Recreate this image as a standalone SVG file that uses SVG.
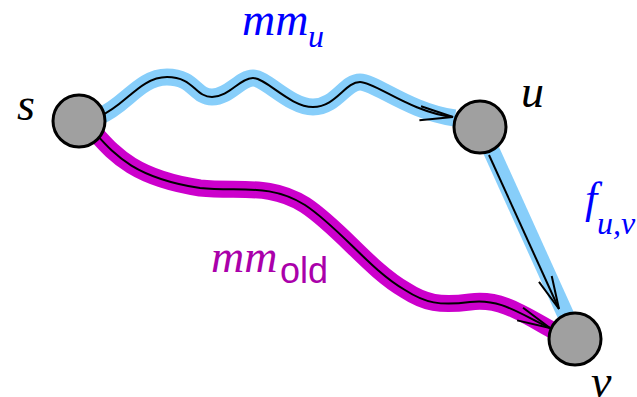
<svg xmlns="http://www.w3.org/2000/svg" width="637" height="397" viewBox="0 0 637 397">
<style>
.band-blue{fill:none;stroke:#87cefa;stroke-width:17;stroke-linecap:butt}
.band-mag{fill:none;stroke:#cc00cc;stroke-width:17;stroke-linecap:butt}
.line{fill:none;stroke:#000;stroke-width:2}
.node{fill:#a0a0a0;stroke:#000;stroke-width:3}
.math{font-family:"Liberation Serif","Times New Roman",serif;font-style:italic}
</style>
<defs>
<marker id="arr" markerUnits="userSpaceOnUse" viewBox="-36 -10 40 20" refX="0" refY="0" markerWidth="40" markerHeight="20" orient="auto">
<path d="M-33,-7 L0,0 L-33,7" fill="none" stroke="#000" stroke-width="2"/>
</marker>
</defs>
<g id="connectors">
<path class="band-blue" d="M100,116 C125,106 140,77 167,77 S195,97 212,97 S240,78 253,78 S290,107 313,107 S345,82 360,82 S410,112 455,118"/>
<path class="band-blue" d="M482,130 L568,320"/>
<path class="band-mag" d="M96,134 C115,155 135,178 200,188 C240,192 270,183 305,205 C340,228 370,270 405,290 C425,303 440,306 470,302 C500,298 520,312 552,330"/>
<path class="line" marker-end="url(#arr)" d="M100,116 C125,106 140,77 167,77 S195,97 212,97 S240,78 253,78 S290,107 313,107 S345,82 360,82 S410,112 453,117"/>
<path class="line" marker-end="url(#arr)" d="M489,155 L559,309"/>
<path class="line" marker-end="url(#arr)" d="M96,134 C115,155 135,178 200,188 C240,192 270,183 305,205 C340,228 370,270 405,290 C425,303 440,306 470,302 C500,298 520,314 550,328"/>
</g>
<g id="node-s">
<circle class="node" cx="79" cy="121" r="26"/>
<text class="math" x="17" y="120" font-size="46">s</text>
</g>
<g id="node-u">
<circle class="node" cx="480" cy="127" r="26"/>
<text class="math" x="521" y="107" font-size="46">u</text>
</g>
<g id="node-v">
<circle class="node" cx="575" cy="339" r="26"/>
<text class="math" x="591" y="397" font-size="46">v</text>
</g>
<g id="labels">
<text class="math" x="242" y="35" font-size="46" fill="#0000ff">mm<tspan x="308" y="47" font-size="32">u</tspan></text>
<text class="math" x="585" y="213" font-size="44" fill="#0000ff">f<tspan x="597" y="234" font-size="32">u,v</tspan></text>
<text class="math" x="211" y="272" font-size="46" fill="#aa00aa">mm<tspan x="280" y="283" font-size="36" font-family="Liberation Sans, Arial, sans-serif" font-style="normal">old</tspan></text>
</g>
</svg>
